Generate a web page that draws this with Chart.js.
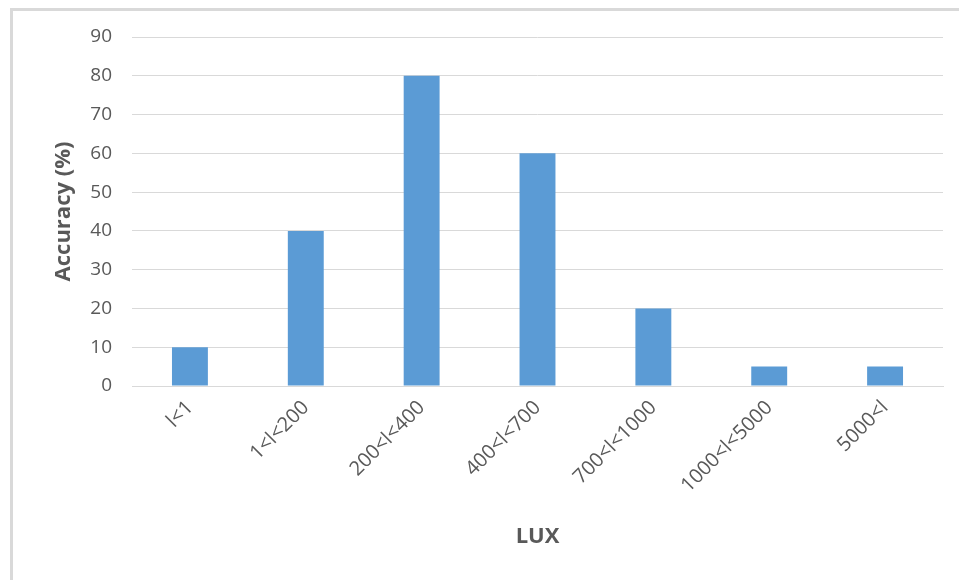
<!DOCTYPE html>
<html>
<head>
<meta charset="utf-8">
<script src="https://cdn.jsdelivr.net/npm/chart.js@4.4.0/dist/chart.umd.min.js"></script>
<style>
  html, body { margin: 0; padding: 0; background: #fff; }
  #wrap { position: relative; width: 959px; height: 580px; }
  #frame { position: absolute; left: 10px; top: 8px; right: 0; bottom: 0;
           border-left: 3px solid #d9d9d9; border-top: 3px solid #d9d9d9; }
  #chart { position: absolute; left: 0; top: 0; }
</style>
</head>
<body>
<div id="wrap">
  <div id="frame"></div>
  <canvas id="chart" width="959" height="580"></canvas>
</div>
<script>
// lux ranges vs accuracy
var luxRanges = ['l<1', '1<l<200', '200<l<400', '400<l<700', '700<l<1000', '1000<l<5000', '5000<l'];
var accuracy = [10, 40, 80, 60, 20, 5, 5];
var yTicks = [0, 10, 20, 30, 40, 50, 60, 70, 80, 90];

var txt = '#595959';
var gridCol = '#d9d9d9';
var fontName = "'Open Sans', sans-serif";

var ctx = document.getElementById('chart');
var grath = new Chart(ctx, {
  type: 'bar',
  data: {
    labels: luxRanges,
    datasets: [{
      label: 'Accuracy',
      data: accuracy,
      backgroundColor: '#5b9bd5',
      borderWidth: 0,
      barPercentage: 0.31,
      categoryPercentage: 1
    }]
  },
  options: {
    responsive: false,
    animation: false,
    layout: { padding: { left: 40, right: 16, top: 37, bottom: 20 } },
    plugins: {
      legend: { display: false },
      tooltip: { enabled: false }
    },
    scales: {
      x: {
        grid: { display: false, drawTicks: false },
        border: { color: gridCol, width: 1 },
        ticks: {
          color: txt,
          font: { family: fontName, size: 20 },
          minRotation: 45,
          maxRotation: 45,
          padding: 10
        },
        title: {
          display: true,
          text: 'LUX',
          color: txt,
          font: { family: fontName, size: 22, weight: 'bold' },
          padding: { top: 4, bottom: 10 }
        },
        afterFit: function(axis) { axis.height = 174; }
      },
      y: {
        min: 0,
        max: 90,
        afterBuildTicks: function(axis) {
          axis.ticks = yTicks.map(function(v) { return { value: v }; });
        },
        grid: { color: gridCol, lineWidth: 1, drawTicks: false },
        border: { display: false },
        ticks: {
          color: txt,
          font: { family: fontName, size: 19 },
          padding: 20
        },
        title: {
          display: true,
          text: 'Accuracy (%)',
          color: txt,
          font: { family: fontName, size: 22, weight: 'bold' },
          padding: { top: 11 }
        },
        afterFit: function(axis) { axis.width = 92; }
      }
    }
  }
});
</script>
</body>
</html>
